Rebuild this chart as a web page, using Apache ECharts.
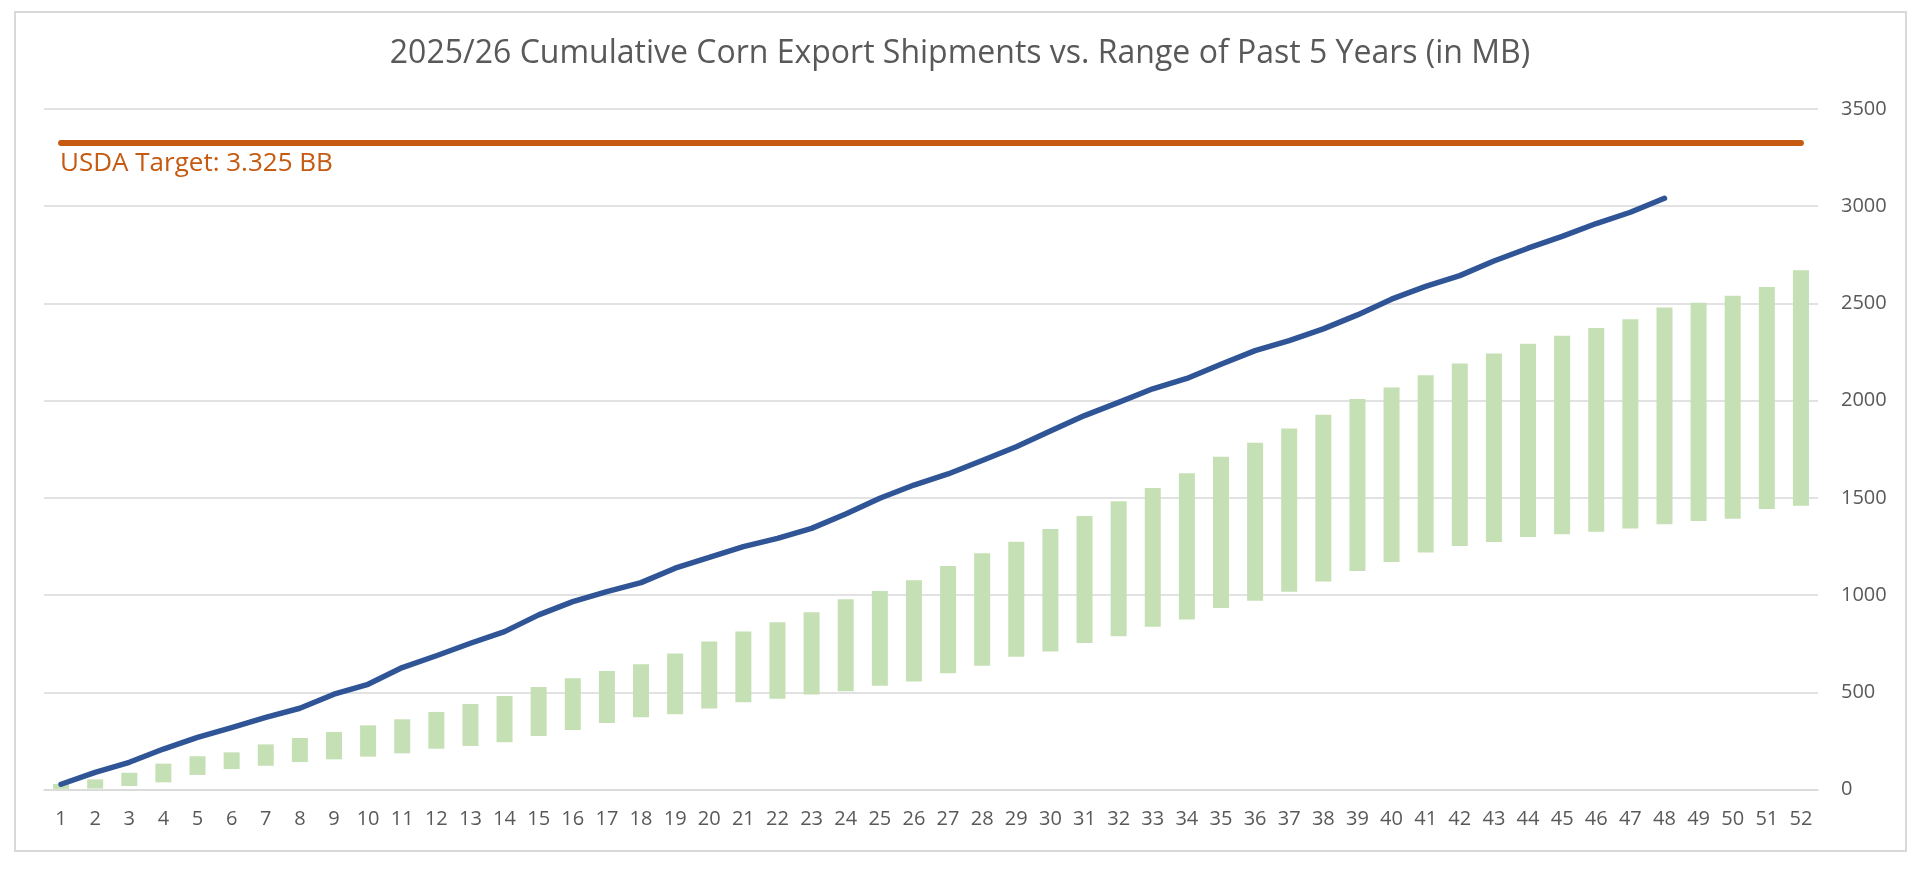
<!DOCTYPE html>
<html>
<head>
<meta charset="utf-8">
<script src="https://cdn.jsdelivr.net/npm/echarts@6/dist/echarts.min.js"></script>
<style>
html,body{margin:0;padding:0;background:#fff;}
#chart{width:1920px;height:870px;}
</style>
</head>
<body>
<div id="chart"></div>
<script>
var titleText = '2025/26 Cumulative Corn Export Shipments vs. Range of Past 5 Years (in MB)';
var targetLabel = 'USDA Target: 3.325 BB';
var weeks = [];
for (var w = 1; w <= 52; w++) weeks.push(String(w));

var rangeMin = [3,5,18,37,75,105,122,141,155,169,186,210,224,243,275,306,342,371,387,416,449,467,488,505,534,555,598,637,683,710,754,788,837,874,934,971,1017,1070,1124,1170,1219,1252,1273,1299,1313,1326,1342,1364,1381,1393,1443,1460];
var rangeMax = [28,52,86,133,171,191,232,265,296,330,361,399,440,481,527,572,610,644,700,761,812,860,912,978,1021,1076,1150,1215,1274,1340,1407,1482,1551,1627,1711,1783,1857,1928,2009,2068,2130,2191,2242,2293,2334,2374,2419,2479,2504,2540,2585,2671];
var current = [27,88,140,208,268,318,371,418,490,541,627,688,752,812,898,966,1018,1064,1138,1194,1249,1292,1343,1417,1498,1566,1623,1692,1763,1844,1923,1991,2061,2114,2187,2257,2309,2369,2441,2522,2588,2643,2718,2784,2845,2911,2969,3041];
var usdaTarget = 3325;

var rangeSpan = rangeMax.map(function (v, i) { return v - rangeMin[i]; });
var targetLine = weeks.map(function () { return usdaTarget; });

var chart = echarts.init(document.getElementById('chart'));
var font = 'Open Sans';
chart.setOption({
  animation: false,
  backgroundColor: '#ffffff',
  title: {
    text: titleText,
    left: 'center',
    top: 33,
    textStyle: { fontFamily: font, fontSize: 32, fontWeight: 'normal', color: '#595959' }
  },
  grid: { left: 44, right: 102, top: 109, bottom: 80.5 },
  xAxis: {
    type: 'category',
    data: weeks,
    axisLine: { show: true, lineStyle: { color: '#D9D9D9', width: 1.5 } },
    axisTick: { show: false },
    axisLabel: { color: '#595959', fontFamily: font, fontSize: 20, margin: 20, interval: 0 }
  },
  yAxis: {
    type: 'value',
    position: 'right',
    min: 0, max: 3500, interval: 500,
    axisLine: { show: false },
    axisTick: { show: false },
    axisLabel: { color: '#595959', fontFamily: font, fontSize: 20, margin: 23, formatter: function (v) { return String(v); } },
    splitLine: { lineStyle: { color: '#D9D9D9', width: 1.5 } }
  },
  graphic: [
    { type: 'rect', shape: { x: 15, y: 12, width: 1891, height: 839 }, style: { fill: 'none', stroke: '#D9D9D9', lineWidth: 2 }, silent: true },
    { type: 'text', left: 60, top: 151, style: { text: targetLabel, fill: '#C55A11', font: '26px "Open Sans"' }, silent: true }
  ],
  series: [
    { type: 'bar', stack: 'range', data: rangeMin, barWidth: 16, itemStyle: { color: 'rgba(0,0,0,0)' }, silent: true },
    { type: 'bar', stack: 'range', data: rangeSpan, barWidth: 16, itemStyle: { color: '#C5E0B4' } },
    { type: 'line', data: current, symbol: 'none', lineStyle: { color: '#2F5597', width: 5.5, cap: 'round', join: 'round' }, z: 5 },
    { type: 'line', data: targetLine, symbol: 'none', lineStyle: { color: '#C55A11', width: 6, cap: 'round' }, z: 5 }
  ]
});
</script>
</body>
</html>
